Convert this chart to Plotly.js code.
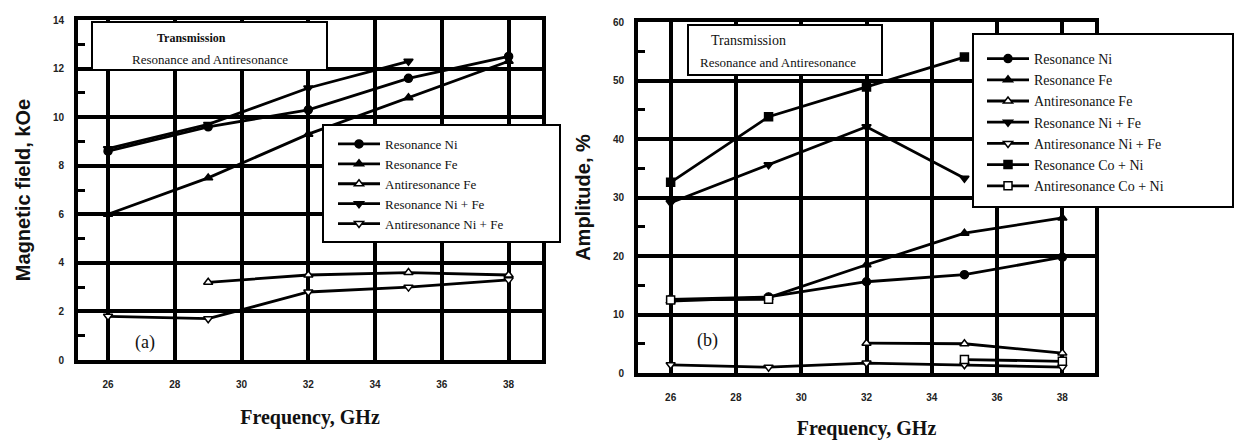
<!DOCTYPE html>
<html>
<head>
<meta charset="utf-8">
<script src="https://cdn.plot.ly/plotly-3.0.1.min.js"></script>
<style>html,body{margin:0;padding:0;background:#fff;}#chart{width:1236px;height:448px;}</style>
</head>
<body>
<div id="chart"></div>
<script>
// ---- data ----
const freq = [26, 29, 32, 35, 38];
const xTicks = [26, 28, 30, 32, 34, 36, 38];

// (a) Magnetic field, kOe
const resNiA   = [8.6, 9.6, 10.3, 11.6, 12.5];
const resFeA   = [6.0, 7.5, 9.3, 10.8, 12.3];
const antiFeA  = [null, 3.2, 3.5, 3.6, 3.5];
const resNiFeA = [8.7, 9.7, 11.2, 12.3, null];
const antiNiFeA= [1.8, 1.7, 2.8, 3.0, 3.3];

// (b) Amplitude, %
const resNiB    = [12.6, 13.0, 15.6, 16.8, 19.8];
const resFeB    = [12.3, 12.9, 18.5, 23.9, 26.5];
const antiFeB   = [null, null, 5.1, 5.0, 3.4];
const resNiFeB  = [29.1, 35.6, 42.1, 33.3, null];
const antiNiFeB = [1.4, 1.0, 1.7, 1.4, 1.0];
const resCoNiB  = [32.6, 43.8, 48.9, 54.0, null];
const antiCoNiB = [12.5, 12.6, null, 2.3, 2.0];

const namesA = ['Resonance Ni', 'Resonance Fe', 'Antiresonance Fe', 'Resonance Ni + Fe', 'Antiresonance Ni + Fe'];
const namesB = ['Resonance Ni', 'Resonance Fe', 'Antiresonance Fe', 'Resonance Ni + Fe', 'Antiresonance Ni + Fe', 'Resonance Co + Ni', 'Antiresonance Co + Ni'];

// ---- styles ----
const W = 1236, H = 448;
const px = v => v / W, py = v => 1 - v / H;

const sym = {
  'Resonance Ni': ['circle', 'black'],
  'Resonance Fe': ['triangle-up', 'black'],
  'Antiresonance Fe': ['triangle-up', 'white'],
  'Resonance Ni + Fe': ['triangle-down', 'black'],
  'Antiresonance Ni + Fe': ['triangle-down', 'white'],
  'Resonance Co + Ni': ['square', 'black'],
  'Antiresonance Co + Ni': ['square', 'white']
};

function tr(name, y, xa, ya, leg) {
  const s = sym[name];
  return {
    x: freq, y: y, name: name, type: 'scatter', mode: 'lines+markers',
    xaxis: xa, yaxis: ya, legend: leg, connectgaps: false,
    line: {color: 'black', width: 2.8},
    marker: {symbol: s[0], color: s[1], size: 8, line: {color: 'black', width: 1.5}}
  };
}

const dataA = [resNiA, resFeA, antiFeA, resNiFeA, antiNiFeA];
const dataB = [resNiB, resFeB, antiFeB, resNiFeB, antiNiFeB, resCoNiB, antiCoNiB];

const traces = [];
namesA.forEach((n, i) => traces.push(tr(n, dataA[i], 'x', 'y', 'legend')));
namesB.forEach((n, i) => traces.push(tr(n, dataB[i], 'x2', 'y2', 'legend2')));

const serif = 'Liberation Serif, Times New Roman, serif';
const tickFont = {family: 'Liberation Sans, Arial, sans-serif', size: 10, color: '#222', weight: 'bold'};
const xTitleFont = {family: serif, size: 20, color: '#111', weight: 'bold'};
const yTitleFont = {family: 'Liberation Sans, Arial, sans-serif', size: 20, color: '#111', weight: 'bold'};

function xax(domain, range, standoff) {
  return {
    domain: domain, range: range, tickvals: xTicks, ticktext: xTicks.map(String),
    showgrid: true, gridcolor: 'black', gridwidth: 4,
    showline: true, linecolor: 'black', linewidth: 4, mirror: true,
    ticks: '', ticklabelstandoff: 12, tickfont: tickFont, zeroline: false,
    title: {text: 'Frequency, GHz', font: xTitleFont, standoff: standoff}
  };
}
function yax(domain, range, dtick, minor, title, anchor) {
  return {
    domain: domain, range: range, dtick: dtick, tick0: 0, anchor: anchor,
    showgrid: true, gridcolor: 'black', gridwidth: 4,
    showline: true, linecolor: 'black', linewidth: 4, mirror: true,
    ticks: '', ticklabelstandoff: 8, tickfont: tickFont, zeroline: false,
    minor: {dtick: minor, ticks: 'inside', ticklen: 7, tickwidth: 3, tickcolor: 'black', showgrid: false},
    title: {text: title, font: yTitleFont, standoff: 18}
  };
}

function ann(x, y, text, size, bold) {
  return {xref: 'paper', yref: 'paper', x: px(x), y: py(y), xanchor: 'center', yanchor: 'middle',
    text: text, showarrow: false, font: {family: serif, size: size, color: '#111', weight: bold ? 'bold' : 'normal'}};
}

const layout = {
  width: W, height: H, margin: {l: 0, r: 0, t: 0, b: 0},
  paper_bgcolor: 'white', plot_bgcolor: 'white',
  font: {family: serif, color: '#111'},
  showlegend: true,
  xaxis: Object.assign(xax([px(78), px(542)], [25.1, 39], 22), {anchor: 'y'}),
  yaxis: yax([py(360), py(20)], [0, 14], 2, 1, 'Magnetic field, kOe', 'x'),
  xaxis2: Object.assign(xax([px(638), px(1095)], [25, 39], 20), {anchor: 'y2'}),
  yaxis2: yax([py(373), py(22)], [0, 60], 10, 5, 'Amplitude, %', 'x2'),
  legend: {
    x: px(333), y: py(129), xanchor: 'left', yanchor: 'top',
    bgcolor: 'rgba(0,0,0,0)', borderwidth: 0, itemwidth: 42,
    font: {family: serif, size: 13, color: '#111'}, traceorder: 'normal'
  },
  legend2: {
    x: px(982), y: py(43), xanchor: 'left', yanchor: 'top',
    bgcolor: 'rgba(0,0,0,0)', borderwidth: 0, itemwidth: 42,
    font: {family: serif, size: 14, color: '#111'}, traceorder: 'normal'
  },
  shapes: [
    {type: 'rect', xref: 'paper', yref: 'paper', x0: px(92), x1: px(327), y0: py(70), y1: py(22), layer: 'above', fillcolor: 'white', line: {color: 'black', width: 2}},
    {type: 'rect', xref: 'paper', yref: 'paper', x0: px(323), x1: px(560), y0: py(242), y1: py(125), layer: 'above', fillcolor: 'white', line: {color: 'black', width: 2}},
    {type: 'rect', xref: 'paper', yref: 'paper', x0: px(688), x1: px(882), y0: py(75), y1: py(25), layer: 'above', fillcolor: 'white', line: {color: 'black', width: 2}},
    {type: 'rect', xref: 'paper', yref: 'paper', x0: px(973), x1: px(1233), y0: py(207), y1: py(34), layer: 'above', fillcolor: 'white', line: {color: 'black', width: 2}}
  ],
  annotations: [
    ann(191, 38, 'Transmission', 12, true),
    ann(210, 60, 'Resonance and Antiresonance', 13, false),
    ann(748, 40, 'Transmission', 14, false),
    ann(778, 62, 'Resonance and Antiresonance', 13, false),
    ann(145, 342, '(a)', 18, false),
    ann(707, 340, '(b)', 18, false)
  ]
};

Plotly.newPlot('chart', traces, layout, {displayModeBar: false, staticPlot: true});
</script>
</body>
</html>
